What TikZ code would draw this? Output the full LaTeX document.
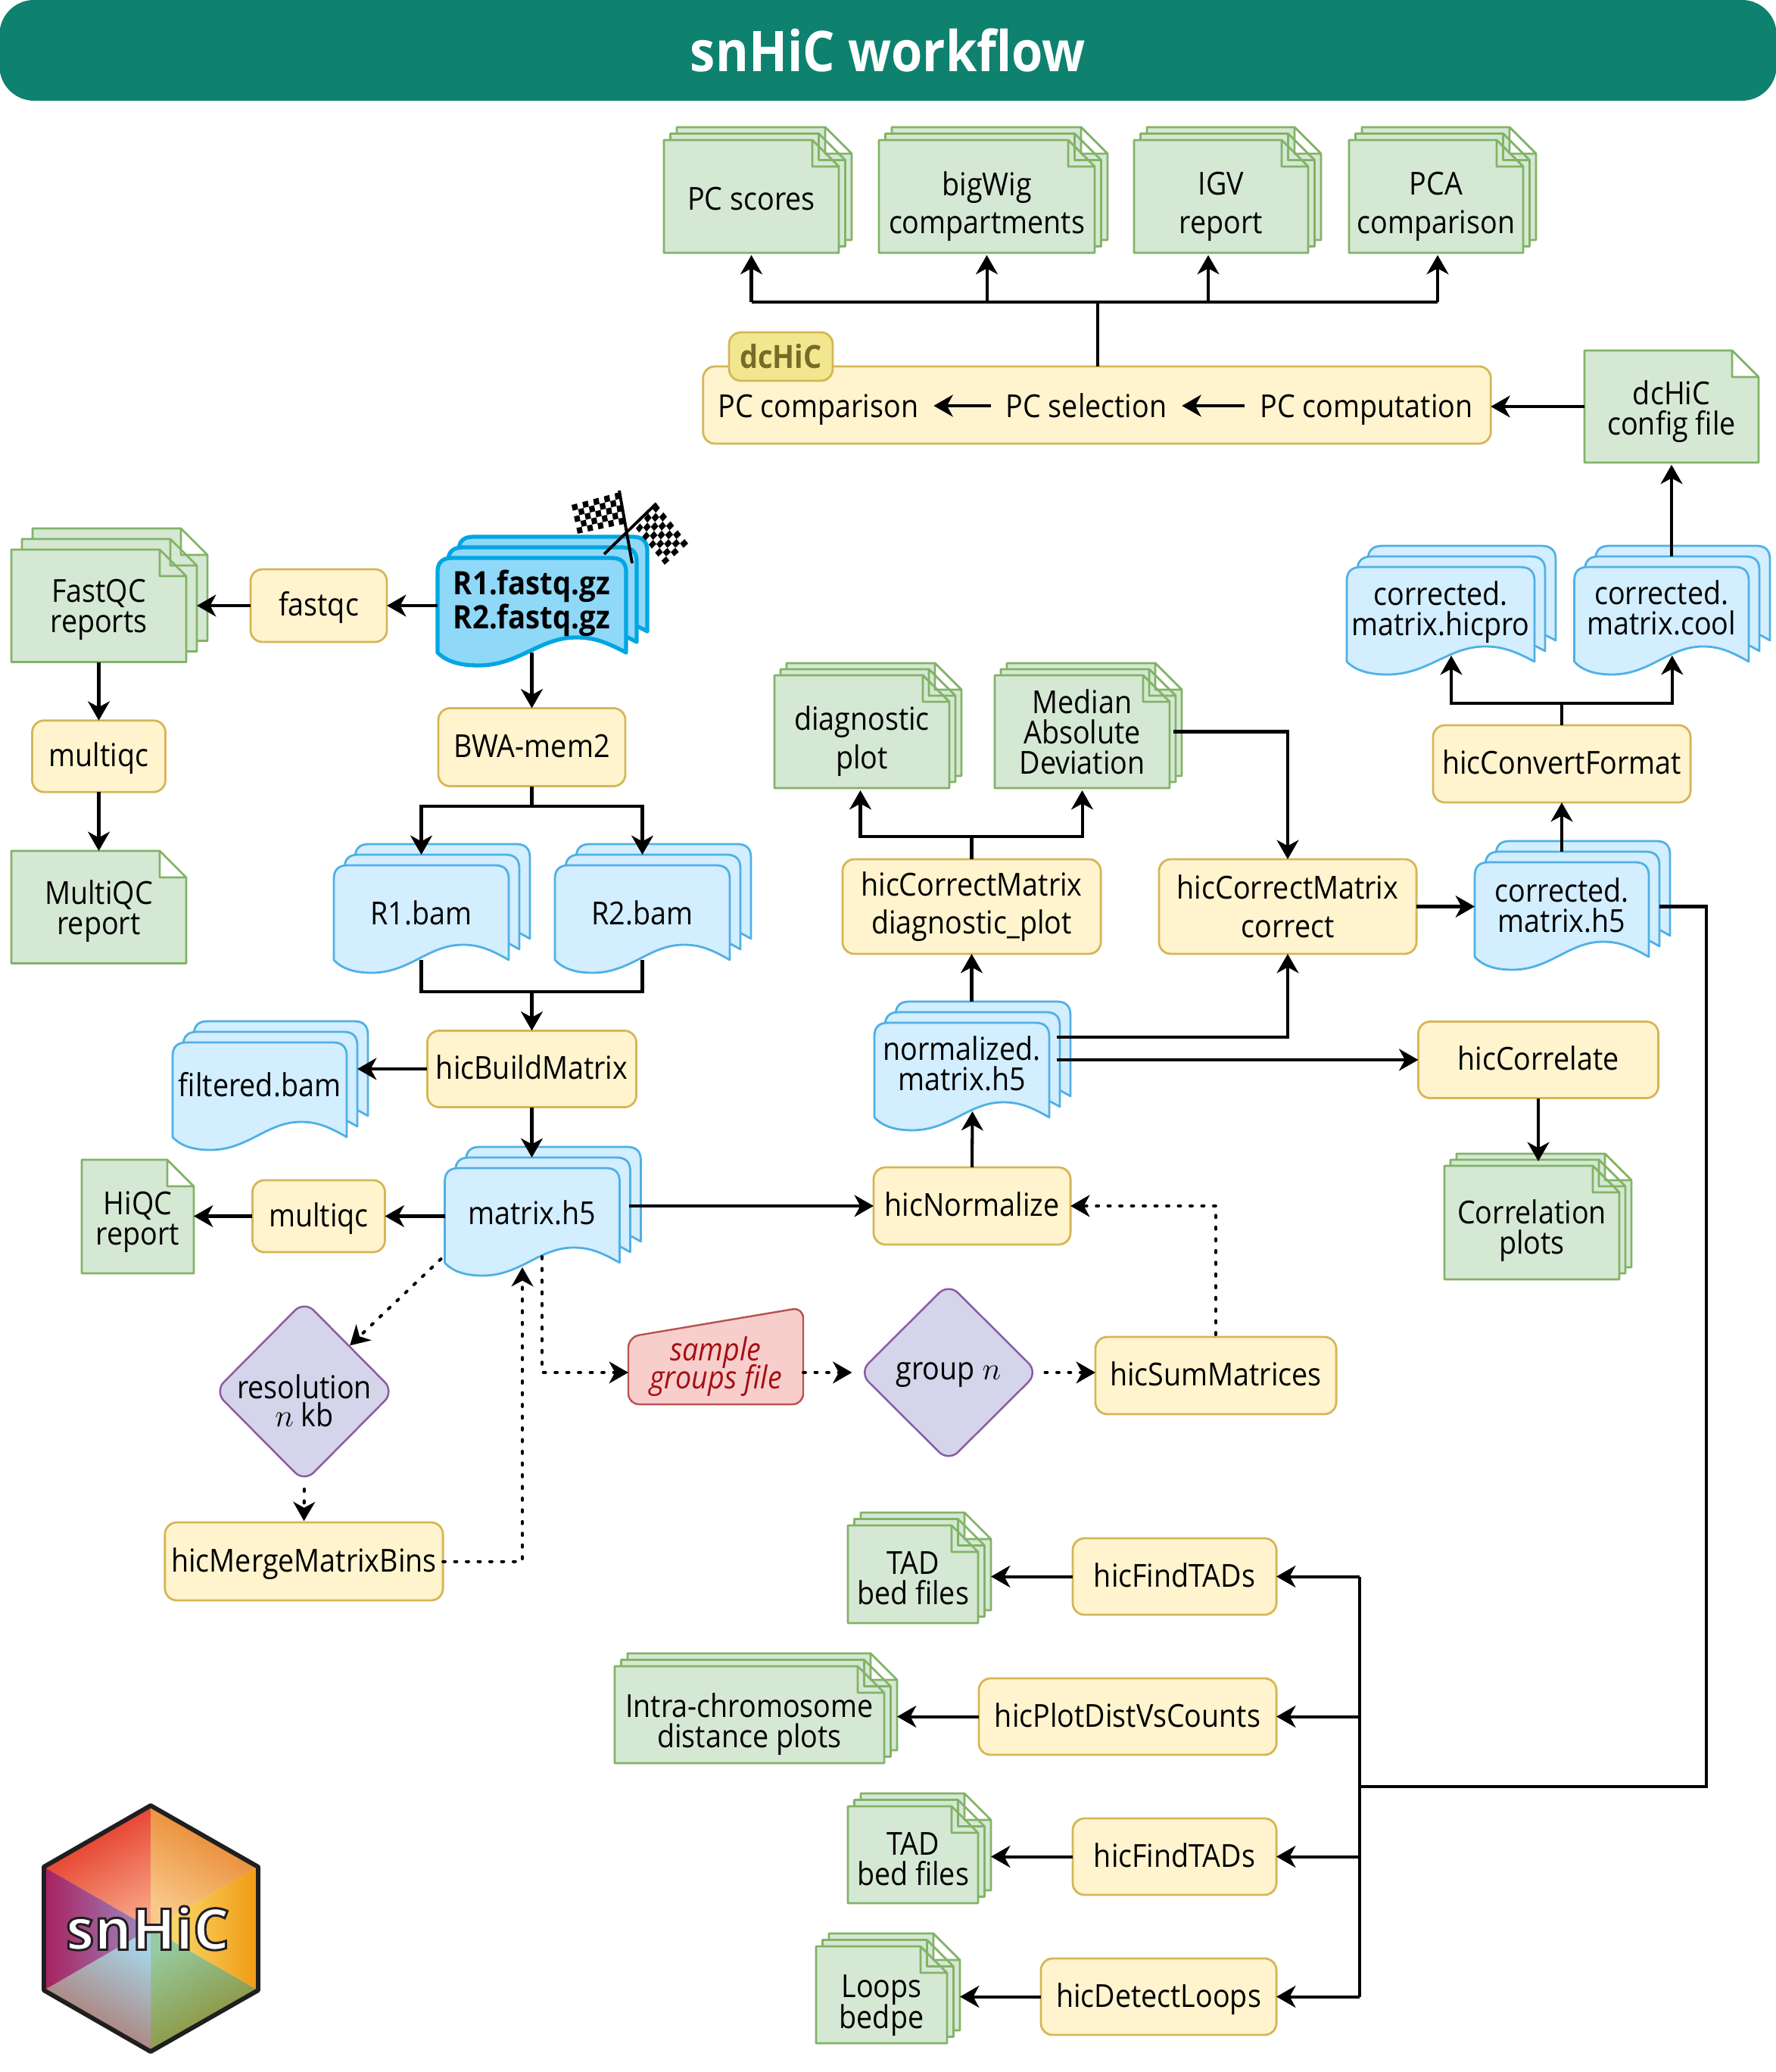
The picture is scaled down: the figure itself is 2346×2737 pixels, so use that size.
\documentclass[tikz,border=0pt]{standalone}
\usepackage{fontspec}
\setmainfont[FakeStretch=0.9]{Open Sans}
\usetikzlibrary{arrows.meta,calc,shapes.geometric}
\newfontface\logofont[FakeBold=4]{Open Sans Bold}
\lineskiplimit=-20pt

\definecolor{teal1}{HTML}{0E816F}
\definecolor{procfill}{HTML}{FFF4CE}
\definecolor{procline}{HTML}{D6B656}
\definecolor{tagfill}{HTML}{F2E78F}
\definecolor{tagtext}{HTML}{786A28}
\definecolor{greenfill}{HTML}{D5E8D4}
\definecolor{greenline}{HTML}{82B366}
\definecolor{bluefill}{HTML}{D2EEFF}
\definecolor{blueline}{HTML}{50B0E4}
\definecolor{startfill}{HTML}{90D8F8}
\definecolor{startline}{HTML}{00A6E2}
\definecolor{decfill}{HTML}{D4D4EA}
\definecolor{decline}{HTML}{8A5AA2}
\definecolor{samplefill}{HTML}{F8CECC}
\definecolor{sampleline}{HTML}{B85450}
\definecolor{sampletext}{HTML}{A50F12}

\tikzset{
	flow/.style={line width=1.15pt, -{Stealth[length=7.2pt,width=8.2pt,inset=2.2pt]}},
	trunk/.style={line width=1.15pt},
	dots/.style={flow, line cap=round, dash pattern=on 0.8pt off 3.6pt},
	procbox/.style={draw=procline, fill=procfill, line width=0.8pt, rounded corners=4.5pt, inner sep=0pt, outer sep=0pt, align=center},
	proc/.style={procbox, text height=10pt, text depth=2.3pt},
	sheet/.style={draw=greenline, fill=greenfill, line width=0.8pt, line join=round},
	wavesheet/.style={draw=blueline, fill=bluefill, line width=0.8pt, line join=round},
	startsheet/.style={draw=startline, fill=startfill, line width=1.5pt, line join=round},
	docbase/.style={anchor=north west, inner sep=0pt, outer sep=0pt},
	doctext/.style={inner sep=0pt, outer sep=0pt, align=center},
	decbox/.style={diamond, aspect=1, draw=decline, fill=decfill, line width=0.7pt, rounded corners=5pt, inner sep=0pt},
	plain/.style={inner sep=0.2cm, outer sep=0pt, text height=11pt, text depth=2.4pt},
	wide/.style={font=\fontsize{11.9}{14.4}\selectfont},
}

% note sheets with a folded corner: #7 lists the offsets of the layers
\newcommand{\greendoc}[8][]{
	\foreach \s in {#7}
		\draw[sheet, shift={(#3+\s,#4-\s)}] (0,0) -- (#5-35,0) -- (#5,35) -- (#5,#6) -- (0,#6) -- cycle
			(#5-35,0) -- (#5-35,35) -- (#5,35);
	\node[docbase, minimum width=#5*0.01cm, minimum height=#6*0.01cm] (#2) at (#3,#4) {};
	\node[doctext, #1] (#2text) at (#2.center) {#8};
}
% sheets with a wavy lower edge
\newcommand{\bluedoc}[7][wavesheet]{
	\foreach \s in {28,14,0}
		\draw[#1, shift={(#3+\s,#4-\s)}, xscale=#5/231]
			(0,125) -- (0,18) .. controls (0,6) and (6,0) .. (18,0) -- (213,0)
			.. controls (225,0) and (231,6) .. (231,18) -- (231,125)
			.. controls (205,110) and (190,105) .. (170,105)
			.. controls (125,105) and (100,142) .. (50,142)
			.. controls (30,142) and (12,138) .. (0,125) -- cycle;
	\node[docbase, minimum width=#5*0.01cm, minimum height=125*0.01cm] (#2) at (#3,#4) {};
	\node[doctext, #6] (#2text) at (#2.center) {#7};
}
% a checkered flag between four corners
\newcommand{\flagcloth}[4]{
	\foreach \i in {0,...,8}
		\foreach \j in {0,...,4} {
			\pgfmathparse{int(mod(\i+\j,2))}
			\ifnum\pgfmathresult=0
				\fill ($($(#1)!\i/9!(#4)$)!\j/5!($(#2)!\i/9!(#3)$)$)
					-- ($($(#1)!{(\i+1)/9}!(#4)$)!\j/5!($(#2)!{(\i+1)/9}!(#3)$)$)
					-- ($($(#1)!{(\i+1)/9}!(#4)$)!{(\j+1)/5}!($(#2)!{(\i+1)/9}!(#3)$)$)
					-- ($($(#1)!\i/9!(#4)$)!{(\j+1)/5}!($(#2)!\i/9!(#3)$)$) -- cycle;
			\fi
		}
}

\begin{document}
\begin{tikzpicture}[x=0.01cm, y=-0.01cm, font=\fontsize{11.9}{11.4}\selectfont]
	\useasboundingbox (0,0) rectangle (2346,2737);

	% title
	\node[fill=teal1, rounded corners=13pt, minimum width=23.46cm, minimum height=1.33cm, inner sep=0pt, text=white, font=\fontsize{21.1}{24}\bfseries\selectfont] (title) at (1173,66.5) {snHiC workflow};

	% compartment outputs
	\greendoc[yshift=-1pt]{pcscores}{877}{185}{231}{149}{17,8.5,0}{PC scores}
	\greendoc[wide, yshift=-3.75pt]{bigwig}{1161}{185}{285}{149}{17,8.5,0}{bigWig\\compartments}
	\greendoc[wide, yshift=-3.75pt]{igv}{1498}{185}{230}{149}{17,8.5,0}{IGV\\report}
	\greendoc[wide, yshift=-3.75pt]{pca}{1782}{185}{230}{149}{17,8.5,0}{PCA\\comparison}
	\node[procbox, minimum width=10.4cm, minimum height=1.02cm] (dcbox) at (1449,535) {};
	\node[draw=procline, fill=tagfill, line width=0.8pt, rounded corners=4.5pt, minimum width=1.37cm, minimum height=0.64cm, inner sep=0pt, text=tagtext, font=\fontsize{12}{14}\bfseries\selectfont] (dctag) at (1031.5,471) {dcHiC};
	\node[plain] (pccomp) at (1081,536) {PC comparison};
	\node[plain] (pcsel) at (1435,536) {PC selection};
	\node[plain] (pccalc) at (1805,536) {PC computation};
	\greendoc[yshift=-2pt]{dcconfig}{2093}{463}{230}{148}{0}{dcHiC\\config file}

	% reads and QC
	\bluedoc[startsheet]{fastq}{578}{737}{249}{font=\fontsize{12.1}{12.8}\bfseries\selectfont, yshift=0.9pt}{R1.fastq.gz\\R2.fastq.gz}
	\draw[line width=1.1pt] (835,744) -- (818,648) (798,732) -- (867,665);
	\flagcloth{819,650}{825,692}{763,705}{755,667}
	\flagcloth{867,665}{840,698}{878,746}{909,718}
	\node[proc, minimum width=1.8cm, minimum height=0.96cm] (fastqc) at (421,800) {fastqc};
	\greendoc[yshift=-1.5pt]{fastqcrep}{15}{726}{231}{148.5}{28,14,0}{FastQC\\reports}
	\node[proc, minimum width=1.76cm, minimum height=0.945cm] (multiqca) at (130.5,999) {multiqc};
	\greendoc[yshift=-1.5pt]{multiqcrep}{15}{1124}{231}{148.5}{0}{MultiQC\\report}
	\node[proc, minimum width=2.47cm, minimum height=1.03cm] (bwa) at (702.5,987) {BWA-mem2};
	\coordinate (bwatee) at (702.5,1065);
	\bluedoc{rone}{441}{1143}{231}{}{R1.bam}
	\bluedoc{rtwo}{733}{1143}{231}{}{R2.bam}
	\coordinate (bamtee) at (702.5,1310);
	\node[proc, minimum width=2.76cm, minimum height=1.01cm] (hicbuild) at (702.5,1412) {hicBuildMatrix};
	\bluedoc{filtered}{228}{1377}{230}{yshift=2pt}{filtered.bam}
	\bluedoc{matrixh}{587.5}{1543}{231}{yshift=1pt}{matrix.h5}
	\node[proc, minimum width=1.75cm, minimum height=0.95cm] (multiqcb) at (421,1606.5) {multiqc};
	\greendoc[yshift=-2pt]{hiqc}{108}{1532}{148}{150}{0}{HiQC\\report}

	% resolution and groups
	\node[decbox, minimum width=2.38cm, minimum height=2.4cm, inner sep=-0.5cm] (resolution) at (402,1838) {};
	\node[doctext, yshift=-3.5pt, font=\fontsize{11.9}{10.5}\selectfont] (restext) at (resolution.center) {resolution\\$n$ kb};
	\node[proc, minimum width=3.67cm, minimum height=1.03cm] (hicmerge) at (401.5,2062.5) {hicMergeMatrixBins};
	\draw[draw=sampleline, fill=samplefill, line width=0.7pt, rounded corners=4pt] (830,1766) -- (1061,1727) -- (1061,1855) -- (830,1855) -- cycle;
	\node[inner sep=0pt, outer sep=0pt, minimum width=2.31cm, align=center, text=sampletext, font=\fontsize{11.9}{10.6}\itshape\selectfont] (samples) at (945.5,1805) {sample\\groups file};
	\node[decbox, minimum width=2.37cm, minimum height=2.36cm, inner sep=-0.5cm] (group) at (1253,1813) {};
	\node[doctext, yshift=-1pt] (grouptext) at (group.center) {group $n$};
	\node[proc, minimum width=3.18cm, minimum height=1.02cm] (hicsum) at (1606,1817) {hicSumMatrices};

	% normalisation
	\node[proc, minimum width=2.6cm, minimum height=1.02cm] (hicnorm) at (1284,1593) {hicNormalize};
	\bluedoc{normh}{1155}{1351}{231}{yshift=2.5pt}{normalized.\\matrix.h5}
	\node[procbox, wide, minimum width=3.41cm, minimum height=1.25cm] (hicdiag) at (1283.5,1197.5) {hicCorrectMatrix\\diagnostic\_plot};
	\coordinate (diagtee) at (1283.5,1105);
	\greendoc[wide, yshift=-3.5pt]{diagplot}{1023}{892}{231}{149}{16,8,0}{diagnostic\\plot}
	\greendoc{median}{1314}{892}{231}{149}{16,8,0}{Median\\Absolute\\Deviation}
	\node[procbox, wide, minimum width=3.4cm, minimum height=1.25cm] (hicfix) at (1701,1197.5) {hicCorrectMatrix\\correct};
	\node[proc, minimum width=3.17cm, minimum height=1.01cm] (hiccorr) at (2032,1400) {hicCorrelate};
	\greendoc[yshift=-3pt]{corrplots}{1908}{1540}{231}{150}{16,8,0}{Correlation\\plots}

	% corrected matrix and conversion
	\bluedoc{corrh}{1948}{1139}{230}{yshift=1.6pt}{corrected.\\matrix.h5}
	\node[proc, minimum width=3.4cm, minimum height=1.02cm] (hicconv) at (2063,1009) {hicConvertFormat};
	\coordinate (convtee) at (2063,929);
	\bluedoc{hicpro}{1779}{749}{248}{yshift=0.9pt}{corrected.\\matrix.hicpro}
	\bluedoc{cool}{2079.5}{749}{230.5}{yshift=2.4pt}{corrected.\\matrix.cool}

	% downstream analyses
	\node[proc, minimum width=2.69cm, minimum height=1.01cm] (findone) at (1551.5,2082.5) {hicFindTADs};
	\node[proc, minimum width=3.93cm, minimum height=1.01cm] (distcounts) at (1489.5,2267.5) {hicPlotDistVsCounts};
	\node[proc, minimum width=2.69cm, minimum height=1.01cm] (findtwo) at (1551.5,2452.5) {hicFindTADs};
	\node[proc, minimum width=3.11cm, minimum height=1.01cm] (loops) at (1530.5,2637.5) {hicDetectLoops};
	\greendoc[yshift=-1.5pt]{tadone}{1120}{2015}{172}{129}{17,8.5,0}{TAD\\bed files}
	\greendoc[yshift=-3.5pt]{intra}{812}{2201}{356}{128}{17,8.5,0}{Intra-chromosome\\distance plots}
	\greendoc[yshift=-1.5pt]{tadtwo}{1120}{2386}{172}{128}{17,8.5,0}{TAD\\bed files}
	\greendoc[yshift=-4pt]{loopsbed}{1078}{2571}{173}{128}{17,8.5,0}{Loops\\bedpe}
	\coordinate (busright) at (2254,2360);
	\coordinate (busleft) at (1796,2360);

	% connectors
	\coordinate (pctee) at (1450,399);
	\draw[trunk] (dcbox.north -| pctee) -- (pctee);
	\draw[trunk] (pcscores.south |- pctee) -- ([shift={(2,0)}]pca.south |- pctee);
	\foreach \n/\d in {pcscores/0, bigwig/0, igv/-17, pca/2}
		\draw[flow] ([shift={(\d,0)}]\n.south |- pctee) -- ([shift={(\d,3)}]\n.south);
	\draw[flow] (pcsel) -- (pccomp);
	\draw[flow] (pccalc) -- (pcsel);
	\draw[flow] (dcconfig.west) -- (dcconfig.west -| dcbox.east);
	\draw[flow] ([shift={(0,-14)}]cool.north -| dcconfig.south) -- ([shift={(0,3)}]dcconfig.south);

	\draw[flow] (fastq.west |- fastqc.east) -- (fastqc.east);
	\draw[flow] (fastqc.west) -- ([shift={(14,0)}]fastqcrep.east |- fastqc.west);
	\draw[flow] (fastqcrep.south) -- (multiqca.north);
	\draw[flow] (multiqca.south) -- (multiqcrep.north);
	\draw[flow] (fastq.south) -- (bwa.north);
	\draw[trunk] (bwa.south) -- (bwatee);
	\draw[flow] (bwatee) -| ([shift={(0,-14)}]rone.north);
	\draw[flow] (bwatee) -| ([shift={(0,-14)}]rtwo.north);
	\draw[trunk] (rone.south) |- (bamtee) -| (rtwo.south);
	\draw[flow] (bamtee) -- (hicbuild.north);
	\draw[flow] (hicbuild.west) -- ([shift={(14,0)}]filtered.east |- hicbuild.west);
	\draw[flow] (hicbuild.south) -- ([shift={(0,-14)}]matrixh.north -| hicbuild.south);
	\draw[flow] (matrixh.west |- multiqcb.east) -- (multiqcb.east);
	\draw[flow] (multiqcb.west) -- (hiqc.east |- multiqcb.west);
	\draw[flow] ([shift={(12,0)}]matrixh.east |- hicnorm.west) -- (hicnorm.west);

	\draw[dots] ([shift={(-5,-5)}]matrixh.south west) -- (resolution.north east);
	\draw[dots, shorten <=2.2pt, shorten >=0.5pt] (resolution.south) -- (hicmerge.north);
	\draw[dots] (hicmerge.east) -| ([shift={(-13,6)}]matrixh.south);
	\draw[dots] ([shift={(13,-8)}]matrixh.south) |- ([shift={(0,8)}]samples.west);
	\draw[dots, shorten >=2.2pt] ([shift={(0,8)}]samples.east) -- (group.west);
	\draw[dots, shorten <=2.2pt] (group.east) -- (hicsum.west |- group.east);
	\draw[dots] ([shift={(0,-3)}]hicsum.north) |- (hicnorm.east);

	\draw[flow] (hicnorm.north) -- ([shift={(14,-8)}]normh.south);
	\draw[flow] ([shift={(0,-28)}]normh.north -| hicdiag.south) -- (hicdiag.south);
	\draw[trunk] (hicdiag.north) -- (diagtee);
	\draw[flow] (diagtee) -| ([shift={(-2,3)}]diagplot.south);
	\draw[flow] (diagtee) -| ([shift={(0,3)}]median.south);
	\draw[flow] ([shift={(5,0)}]median.east) -| (hicfix.north);
	\draw[flow] ([shift={(10,-43.5)}]normh.east) -| (hicfix.south);
	\draw[flow] ([shift={(10,0)}]normh.east |- hiccorr.west) -- (hiccorr.west);
	\draw[flow] (hiccorr.south) -- ([shift={(124,-6)}]corrplots.north west);

	\draw[flow] (hicfix.east) -- (hicfix.east -| corrh.west);
	\draw[flow] ([shift={(0,-14)}]corrh.north) -- (hicconv.south);
	\draw[trunk] (hicconv.north) -- (convtee);
	\draw[flow] (convtee) -| ([shift={(14,-8)}]hicpro.south);
	\draw[flow] (convtee) -| ([shift={(14,-8)}]cool.south);
	\draw[trunk] ([shift={(14,0)}]corrh.east |- hicfix.east) -| (busright) -- (busleft);
	\draw[trunk] (busleft |- findone.east) -- (busleft |- loops.east);
	\foreach \n in {findone, distcounts, findtwo, loops}
		\draw[flow] (busleft |- \n.east) -- (\n.east);
	\draw[flow] (findone.west) -- ([shift={(17,0)}]tadone.east |- findone.west);
	\draw[flow] (distcounts.west) -- ([shift={(17,0)}]intra.east |- distcounts.west);
	\draw[flow] (findtwo.west) -- ([shift={(17,0)}]tadtwo.east |- findtwo.west);
	\draw[flow] (loops.west) -- ([shift={(17,0)}]loopsbed.east |- loops.west);

	% hexagon logo
	\coordinate (hc) at (199,2547.5);
	\coordinate (ha) at (199,2385);
	\coordinate (hb) at (341,2466);
	\coordinate (hd) at (341,2629);
	\coordinate (he) at (199,2710);
	\coordinate (hf) at (58,2629);
	\coordinate (hg) at (58,2466);
	\definecolor{faceA}{HTML}{E02818}\definecolor{faceAi}{HTML}{F79E80}
	\definecolor{faceB}{HTML}{E67E22}\definecolor{faceBi}{HTML}{F9C98B}
	\definecolor{faceC}{HTML}{F09A12}\definecolor{faceCi}{HTML}{FCE680}
	\definecolor{faceD}{HTML}{8C8A2C}\definecolor{faceDi}{HTML}{95CBA0}
	\definecolor{faceE}{HTML}{B06E62}\definecolor{faceEi}{HTML}{A5D3E5}
	\definecolor{faceF}{HTML}{A82060}\definecolor{faceFi}{HTML}{9C8FC4}
	\shade[top color=faceA, middle color=faceAi, bottom color=faceAi, shading angle=30] (hg) -- (ha) -- (hc) -- cycle;
	\shade[top color=faceB, middle color=faceBi, bottom color=faceBi, shading angle=-30] (ha) -- (hb) -- (hc) -- cycle;
	\shade[top color=faceC, middle color=faceCi, bottom color=faceCi, shading angle=-90] (hb) -- (hd) -- (hc) -- cycle;
	\shade[top color=faceD, middle color=faceDi, bottom color=faceDi, shading angle=-150] (hd) -- (he) -- (hc) -- cycle;
	\shade[top color=faceE, middle color=faceEi, bottom color=faceEi, shading angle=150] (he) -- (hf) -- (hc) -- cycle;
	\shade[top color=faceF, middle color=faceFi, bottom color=faceFi, shading angle=90] (hf) -- (hg) -- (hc) -- cycle;
	\draw[line width=1.7pt, draw=black!88, line join=round] (ha) -- (hb) -- (hd) -- (he) -- (hf) -- (hg) -- cycle;
	\node[inner sep=0pt, text=white] (logo) at (195,2547) {\special{pdf:code 0.14 0.12 0.13 RG}\fontsize{21.5}{24}\logofont snHiC};
\end{tikzpicture}
\end{document}
